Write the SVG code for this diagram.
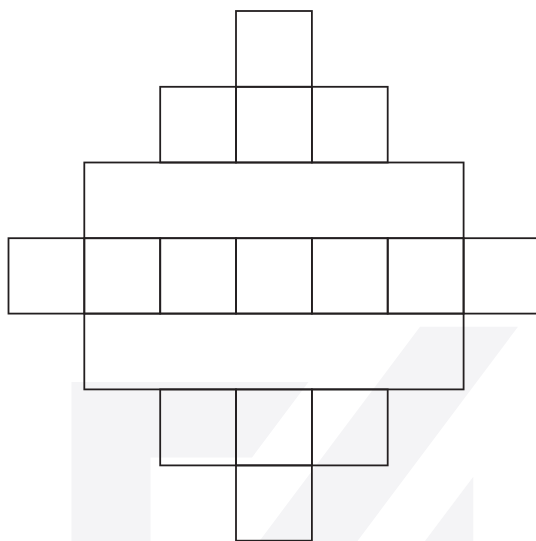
<svg xmlns="http://www.w3.org/2000/svg" width="536" height="541" viewBox="0 0 536 541">
  <style>
    .cell { fill: none; stroke: #231f20; stroke-width: 1.8; stroke-linejoin: miter; }
    .wm { fill: #f4f4f6; stroke: none; }
  </style>
  <rect x="0" y="0" width="536" height="541" fill="#ffffff"/>
  <g id="watermark">
    <polygon class="wm" points="71.5,382 308.5,382 252,457.5 150.5,457.5 150.5,541 71.5,541"/>
    <polygon class="wm" points="420,326.7 518,326.7 357.5,541 259.5,541"/>
    <polygon class="wm" points="473.3,476.7 473.3,541 425,541"/>
  </g>
  <g id="row1">
    <rect id="r1c4" class="cell" x="236" y="11" width="75.9" height="75.8"/>
  </g>
  <g id="row2">
    <rect id="r2c3" class="cell" x="160.2" y="86.8" width="75.8" height="75.7"/>
    <rect id="r2c4" class="cell" x="236" y="86.8" width="75.9" height="75.7"/>
    <rect id="r2c5" class="cell" x="311.9" y="86.8" width="75.8" height="75.7"/>
  </g>
  <g id="row3">
    <rect id="r3wide" class="cell" x="84.3" y="162.5" width="379.3" height="75.7"/>
  </g>
  <g id="row4">
    <rect id="r4c1" class="cell" x="8.5" y="238.2" width="75.8" height="75.4"/>
    <rect id="r4c2" class="cell" x="84.3" y="238.2" width="75.9" height="75.4"/>
    <rect id="r4c3" class="cell" x="160.2" y="238.2" width="75.8" height="75.4"/>
    <rect id="r4c4" class="cell" x="236" y="238.2" width="75.9" height="75.4"/>
    <rect id="r4c5" class="cell" x="311.9" y="238.2" width="75.8" height="75.4"/>
    <rect id="r4c6" class="cell" x="387.7" y="238.2" width="75.9" height="75.4"/>
    <rect id="r4c7" class="cell" x="463.6" y="238.2" width="76" height="75.4"/>
  </g>
  <g id="row5">
    <rect id="r5wide" class="cell" x="84.3" y="313.6" width="379.3" height="75.8"/>
  </g>
  <g id="row6">
    <rect id="r6c3" class="cell" x="160.2" y="389.4" width="75.8" height="76"/>
    <rect id="r6c4" class="cell" x="236" y="389.4" width="75.9" height="76"/>
    <rect id="r6c5" class="cell" x="311.9" y="389.4" width="75.8" height="76"/>
  </g>
  <g id="row7">
    <rect id="r7c4" class="cell" x="236" y="465.4" width="75.9" height="75.3"/>
  </g>
  <g id="connectors"/>
</svg>
